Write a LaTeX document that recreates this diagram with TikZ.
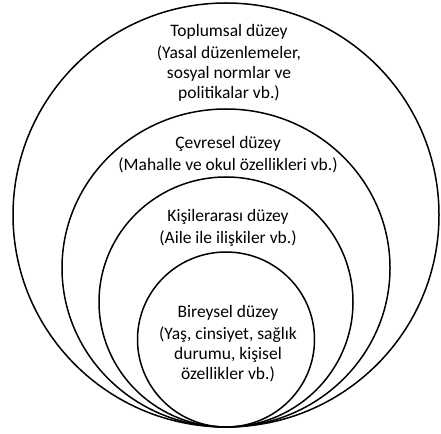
\documentclass[tikz,border=0pt]{standalone}
\usepackage{fontspec}
\setmainfont{Carlito}
\usetikzlibrary{positioning}

\begin{document}
\begin{tikzpicture}[x=1pt,y=1pt,
    every node/.style={font=\fontsize{17.5}{20}\selectfont, align=center, inner sep=0pt},
    ring/.style={draw=black, line width=1.5pt}]
    \useasboundingbox (0,0) rectangle (441,433);

    % Nested levels, all touching at the bottom
    \foreach \rx/\ry in {213/212, 164/159, 127/125, 88.5/87.5} {
        \draw[ring] (226,6+\ry) ellipse [x radius=\rx, y radius=\ry];
    }

    % Level titles
    \node (toplum) at (229,401) {Toplumsal düzey};
    \node (cevre)  at (228,289) {Çevresel düzey};
    \node (kisi)   at (228,216) {Kişilerarası düzey};
    \node (birey)  at (228,120) {Bireysel düzey};

    % Explanations below the titles
    \node[below=6pt of toplum] {(Yasal düzenlemeler,\\sosyal normlar ve\\politikalar vb.)};
    \node[below=6pt of cevre]  {(Mahalle ve okul özellikleri vb.)};
    \node[below=6pt of kisi]   {(Aile ile ilişkiler vb.)};
    \node[below=6pt of birey]  {(Yaş, cinsiyet, sağlık\\durumu, kişisel\\özellikler vb.)};

\end{tikzpicture}
\end{document}
